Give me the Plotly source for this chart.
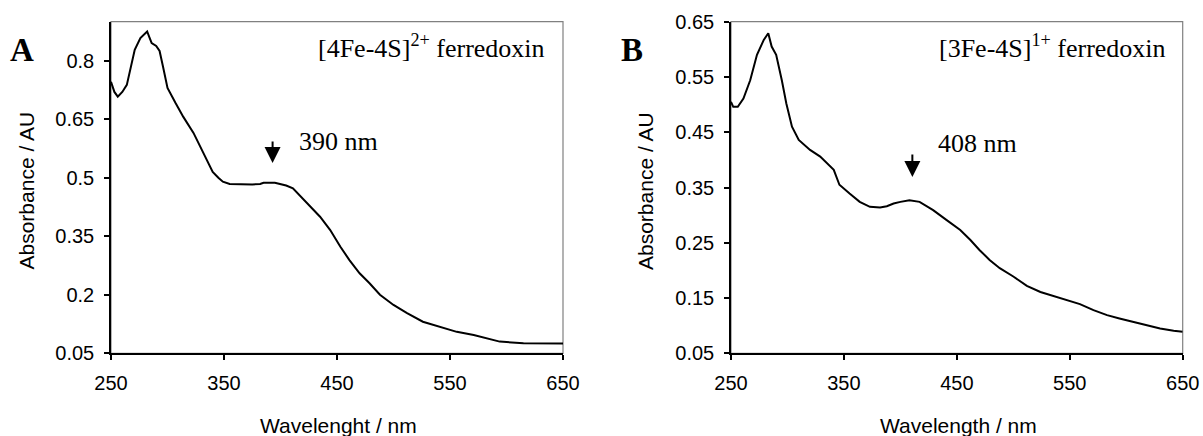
import plotly.graph_objects as go

# ---- Data ----
wl_a = [250, 253, 256, 260, 264, 268, 271, 276, 280, 282, 284, 286, 290, 293, 296, 300,
        307, 314, 323, 329, 335, 340, 345, 349, 355, 365, 375, 382, 385, 395, 400, 405,
        411, 417, 423, 429, 435, 444, 453, 461, 470, 479, 488, 500, 512, 526, 541, 556,
        571, 585, 594, 615, 630, 650]
abs_a = [0.746, 0.72, 0.708, 0.72, 0.738, 0.79, 0.828, 0.858, 0.87, 0.875, 0.86, 0.845,
         0.838, 0.825, 0.785, 0.73, 0.692, 0.656, 0.615, 0.58, 0.546, 0.515, 0.5, 0.49,
         0.484, 0.483, 0.483, 0.484, 0.487, 0.487, 0.484, 0.48, 0.473, 0.455, 0.435,
         0.418, 0.40, 0.366, 0.323, 0.289, 0.255, 0.229, 0.20, 0.174, 0.153, 0.131,
         0.118, 0.105, 0.097, 0.086, 0.080, 0.076, 0.075, 0.075]

wl_b = [250, 252, 256, 261, 267, 273, 279, 283, 286, 290, 295, 299, 304, 310, 320, 329,
        341, 346, 355, 364, 373, 382, 388, 394, 400, 408, 417, 429, 441, 453, 462, 470,
        479, 488, 500, 512, 524, 535, 547, 559, 571, 583, 594, 606, 618, 630, 642, 650]
abs_b = [0.505, 0.496, 0.496, 0.511, 0.544, 0.59, 0.617, 0.629, 0.605, 0.59, 0.544,
         0.502, 0.46, 0.436, 0.418, 0.406, 0.382, 0.355, 0.339, 0.324, 0.315, 0.314,
         0.316, 0.321, 0.324, 0.327, 0.324, 0.309, 0.291, 0.273, 0.255, 0.237, 0.219,
         0.204, 0.189, 0.172, 0.161, 0.154, 0.146, 0.139, 0.128, 0.119, 0.113, 0.107,
         0.101, 0.095, 0.091, 0.089]

x_ticks = [250, 350, 450, 550, 650]
y_ticks_a = [0.05, 0.2, 0.35, 0.5, 0.65, 0.8]
y_ticks_a_text = ["0.05", "0.2", "0.35", "0.5", "0.65", "0.8"]
y_ticks_b = [0.05, 0.15, 0.25, 0.35, 0.45, 0.55, 0.65]
y_ticks_b_text = ["0.05", "0.15", "0.25", "0.35", "0.45", "0.55", "0.65"]

peak_a = 393   # arrow position (nm) as drawn
peak_b = 410.6
peak_a_abs = 0.538
peak_b_abs = 0.369

W, H = 1203, 436
SANS = "Liberation Sans, Arial, sans-serif"
SERIF = "Liberation Serif, Times New Roman, serif"

fig = go.Figure()
fig.add_trace(go.Scatter(x=wl_a, y=abs_a, mode="lines", line=dict(color="black", width=2),
                         xaxis="x", yaxis="y", showlegend=False, hoverinfo="skip"))
fig.add_trace(go.Scatter(x=wl_b, y=abs_b, mode="lines", line=dict(color="black", width=2),
                         xaxis="x2", yaxis="y2", showlegend=False, hoverinfo="skip"))

ydom = [1 - 353.3 / H, 1 - 21.7 / H]
xdom_a = [111 / W, 563 / W]
xdom_b = [731 / W, 1182.7 / W]

axis_common = dict(showgrid=False, zeroline=False, showline=True, linecolor="black",
                   linewidth=1.5, ticks="outside", ticklen=5, tickwidth=1.5,
                   tickcolor="black", automargin=False,
                   tickfont=dict(family=SANS, size=20, color="black"))

fig.update_layout(
    width=W, height=H, margin=dict(l=0, r=0, t=0, b=0, autoexpand=False),
    paper_bgcolor="white", plot_bgcolor="white",
    xaxis=dict(domain=xdom_a, range=[250, 650], tickvals=x_ticks, anchor="y",
               ticklabelstandoff=6, **axis_common),
    yaxis=dict(domain=ydom, range=[0.05, 0.9], tickvals=y_ticks_a, ticktext=y_ticks_a_text,
               anchor="x", ticklabelstandoff=6, **axis_common),
    xaxis2=dict(domain=xdom_b, range=[250, 650], tickvals=x_ticks, anchor="y2",
                ticklabelstandoff=6, **axis_common),
    yaxis2=dict(domain=ydom, range=[0.05, 0.65], tickvals=y_ticks_b, ticktext=y_ticks_b_text,
                anchor="x2", ticklabelstandoff=6, **axis_common),
)

# gray frame (top/right borders)
for xr, yr in [("x domain", "y domain"), ("x2 domain", "y2 domain")]:
    fig.add_shape(type="rect", xref=xr, yref=yr, x0=0, x1=1, y0=0, y1=1,
                  line=dict(color="#808080", width=1.2), layer="below")

ann = []
# axis titles
for xc, txt in [(338, "Wavelenght / nm"), (958, "Wavelength / nm")]:
    ann.append(dict(x=xc / W, y=1 - 425 / H, xref="paper", yref="paper", text=txt,
                    showarrow=False, xanchor="center", yanchor="middle",
                    font=dict(family=SANS, size=21, color="black")))
for xc in [25.5, 645]:
    ann.append(dict(x=xc / W, y=1 - 191 / H, xref="paper", yref="paper",
                    text="Absorbance / AU", textangle=-90, showarrow=False,
                    xanchor="center", yanchor="middle",
                    font=dict(family=SANS, size=21, color="black")))
# panel letters
for xc, txt in [(21.5, "A"), (631.5, "B")]:
    ann.append(dict(x=xc / W, y=1 - 50 / H, xref="paper", yref="paper",
                    text="<b>" + txt + "</b>", showarrow=False, xanchor="center",
                    yanchor="middle", font=dict(family=SERIF, size=33, color="black")))
# inset labels
ann.append(dict(x=547 / W, y=1 - 47 / H, xref="paper", yref="paper",
                text="[4Fe-4S]<sup>2+</sup> ferredoxin", showarrow=False,
                xanchor="right", yanchor="middle",
                font=dict(family=SERIF, size=26, color="black")))
ann.append(dict(x=937 / W, y=1 - 47 / H, xref="paper", yref="paper",
                text="[3Fe-4S]<sup>1+</sup> ferredoxin", showarrow=False,
                xanchor="left", yanchor="middle",
                font=dict(family=SERIF, size=26, color="black")))
ann.append(dict(x=297 / W, y=1 - 142 / H, xref="paper", yref="paper", text="390 nm",
                showarrow=False, xanchor="left", yanchor="middle",
                font=dict(family=SERIF, size=26, color="black")))
ann.append(dict(x=936 / W, y=1 - 143 / H, xref="paper", yref="paper", text="408 nm",
                showarrow=False, xanchor="left", yanchor="middle",
                font=dict(family=SERIF, size=26, color="black")))
# arrows
ann.append(dict(x=peak_a, y=peak_a_abs, xref="x", yref="y", text="", showarrow=True,
                ax=0, ay=-23, arrowhead=2, arrowsize=1.6, arrowwidth=2, arrowcolor="black"))
ann.append(dict(x=peak_b, y=peak_b_abs, xref="x2", yref="y2", text="", showarrow=True,
                ax=0, ay=-24, arrowhead=2, arrowsize=1.6, arrowwidth=2, arrowcolor="black"))
fig.update_layout(annotations=ann)

fig.write_html("out.html")
